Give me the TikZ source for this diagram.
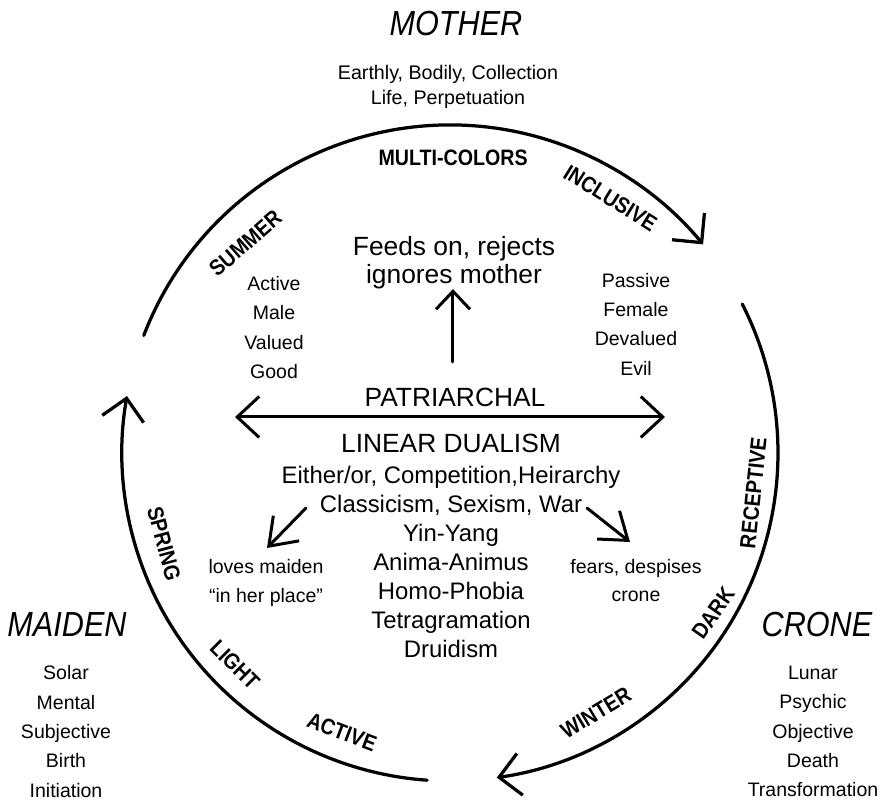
\documentclass[tikz,border=0pt]{standalone}
\usepackage{fontspec}
\setmainfont{Liberation Sans}
\newfontfamily\condfont[FakeStretch=0.88]{Liberation Sans}
\usepackage{tikz}
\usetikzlibrary{arrows.meta}

\begin{document}
\begin{tikzpicture}[x=0.2mm,y=0.2mm,
    title/.style={inner sep=0pt,font=\condfont\itshape\fontsize{19.8}{22}\selectfont},
    traits/.style={inner sep=0pt,align=center,font=\fontsize{11.1}{16.7}\selectfont},
    season/.style={inner sep=0pt,font=\condfont\bfseries\fontsize{12.7}{14}\selectfont},
    bigtext/.style={inner sep=0pt,align=center,font=\fontsize{15}{15.9}\selectfont},
    listtext/.style={inner sep=0pt,align=center,font=\fontsize{13.6}{16.5}\selectfont},
    cyclearc/.style={line width=0.65mm,line cap=round,-{Straight Barb[length=4.2mm,width=8.4mm]}},
    linkarrow/.style={line width=0.6mm,line cap=round}]
  \useasboundingbox (-450,-349) rectangle (437,453);
  \coordinate (ctr) at (0,0);

  % the three seasons of the cycle
  \draw[cyclearc] (159:328) arc[start angle=159,end angle=39.5,radius=328];
  \draw[cyclearc] (27:328) arc[start angle=27,end angle=-81.8,radius=328];
  \draw[cyclearc] (266:328) arc[start angle=266,end angle=170,radius=328];

  \foreach \name/\ang/\dist/\rot/\word in {multi/89.4/295/0/MULTI-COLORS,
      incl/57.8/301/-32/INCLUSIVE, summer/134.3/293/41/SUMMER,
      recep/-7.5/306/84/RECEPTIVE, dark/-31.3/308/55/DARK,
      winter/-60.7/298/31/WINTER, spring/197.6/300/-75/SPRING,
      light/224.6/302/-45/LIGHT, active/248.8/299/-21/ACTIVE}
    \node[season,rotate=\rot] (\name) at (\ang:\dist) {\word};

  \node[title] (mother) at (6,429) {MOTHER};
  \node[traits,font=\fontsize{11.2}{14.2}\selectfont] (mothertraits) at (-2,366)
    {Earthly, Bodily, Collection\\Life, Perpetuation};
  \node[title] (maiden) at (-383,-172) {MAIDEN};
  \node[traits] (maidentraits) at (-384,-278.5)
    {Solar\\Mental\\Subjective\\Birth\\Initiation};
  \node[title] (crone) at (367,-172) {CRONE};
  \node[traits] (cronetraits) at (363,-278.5)
    {Lunar\\Psychic\\Objective\\Death\\Transformation};

  \node[bigtext] (feeds) at (4,190.5) {Feeds on, rejects\\ignores mother};
  \node[traits] (malelist) at (-176,125.5) {Active\\Male\\Valued\\Good};
  \node[traits] (femalelist) at (186,129) {Passive\\Female\\Devalued\\Evil};
  \node[bigtext] (patr) at (5,56) {PATRIARCHAL};
  \node[bigtext] (dualism) at (1,10) {LINEAR DUALISM};
  \node[listtext] (dualist) at (1,-108.5)
    {Either/or, Competition,Heirarchy\\Classicism, Sexism, War\\Yin-Yang\\
     Anima-Animus\\Homo-Phobia\\Tetragramation\\Druidism};
  \node[traits,font=\fontsize{11.1}{17}\selectfont] (loves) at (-184,-130)
    {loves maiden\\``in her place''};
  \node[traits,font=\fontsize{11.1}{15.4}\selectfont] (fears) at (186,-127.5)
    {fears, despises\\crone};

  \coordinate (pw) at (-215,36);
  \coordinate (pe) at (215,36);
  \draw[linkarrow,{Straight Barb[length=4.4mm,width=8.2mm]}-{Straight Barb[length=4.4mm,width=8.2mm]}] (pw) -- (pe);
  \coordinate (upfoot) at (3,91);
  \draw[linkarrow,-{Straight Barb[length=3.6mm,width=6.8mm]}] (upfoot) -- (upfoot |- feeds.south);
  \coordinate (lfrom) at (-144,-55);
  \coordinate (lto) at (-183,-95);
  \draw[linkarrow,-{Straight Barb[length=5mm,width=7.2mm]}] (lfrom) -- (lto);
  \coordinate (rfrom) at (137,-55);
  \coordinate (rto) at (180,-89);
  \draw[linkarrow,-{Straight Barb[length=5mm,width=7.2mm]}] (rfrom) -- (rto);
\end{tikzpicture}
\end{document}
